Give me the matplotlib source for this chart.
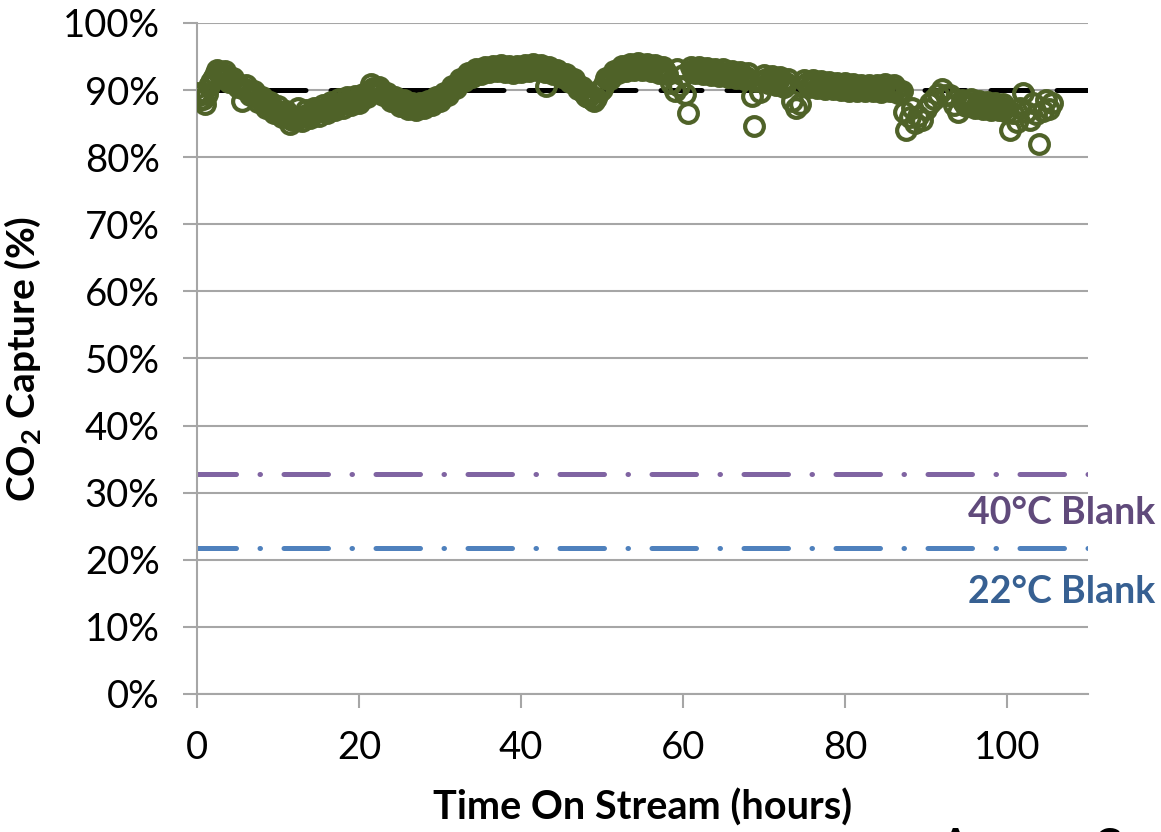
import matplotlib
matplotlib.use('Agg')
import matplotlib.pyplot as plt
from matplotlib.ticker import PercentFormatter

# Time on stream (hours) and CO2 capture (%)
hours = [0.0, 0.5, 1.0, 1.5, 2.0, 2.5, 3.0, 3.5, 4.0, 4.5, 5.0, 5.5, 6.0, 6.5, 7.0, 7.5,
         8.0, 8.5, 9.0, 9.5, 10.0, 10.5, 11.0, 11.5, 12.0, 12.5, 13.0, 13.5, 14.0, 14.5,
         15.0, 15.5, 16.0, 16.5, 17.0, 17.5, 18.0, 18.5, 19.0, 19.5, 20.0, 20.5, 21.0,
         21.5, 22.0, 22.5, 23.0, 23.5, 24.0, 24.5, 25.0, 25.5, 26.0, 26.5, 27.0, 27.5,
         28.0, 28.5, 29.0, 29.5, 30.0, 30.5, 31.0, 31.5, 32.0, 32.5, 33.0, 33.5, 34.0,
         34.5, 35.0, 35.5, 36.0, 36.5, 37.0, 37.5, 38.0, 38.5, 39.0, 39.5, 40.0, 40.5,
         41.0, 41.5, 42.0, 42.5, 43.0, 43.1, 43.5, 44.0, 44.5, 45.0, 45.5, 46.0, 46.5,
         47.0, 47.5, 48.0, 48.5, 49.0, 49.5, 50.0, 50.5, 51.0, 51.5, 52.0, 52.5, 53.0,
         53.5, 54.0, 54.5, 55.0, 55.5, 56.0, 56.5, 57.0, 57.5, 58.0, 58.5, 59.0, 59.3,
         59.5, 60.0, 60.3, 60.6, 61.0, 61.5, 62.0, 62.5, 63.0, 63.5, 64.0, 64.5, 65.0,
         65.5, 66.0, 66.5, 67.0, 67.5, 68.0, 68.5, 68.8, 69.0, 69.5, 70.0, 70.5, 71.0,
         71.5, 72.0, 72.5, 73.0, 73.5, 74.0, 74.5, 75.0, 75.5, 76.0, 76.5, 77.0, 77.5,
         78.0, 78.5, 79.0, 79.5, 80.0, 80.5, 81.0, 81.5, 82.0, 82.5, 83.0, 83.5, 84.0,
         84.5, 85.0, 85.5, 86.0, 86.5, 87.0, 87.3, 87.5, 88.0, 88.3, 88.6, 89.0, 89.5,
         90.0, 90.5, 91.0, 91.5, 92.0, 92.5, 93.0, 93.5, 94.0, 94.5, 95.0, 95.5, 96.0,
         96.5, 97.0, 97.5, 98.0, 98.5, 99.0, 99.5, 100.0, 100.4, 100.8, 101.2, 101.6,
         102.0, 102.4, 102.8, 103.2, 103.6, 104.0, 104.4, 104.8, 105.2, 105.5]
capture = [89.6, 88.6, 87.9, 90.6, 91.6, 93.0, 92.0, 92.8, 91.2, 91.8, 90.4, 88.4, 90.8,
           89.2, 89.9, 88.2, 89.0, 87.4, 88.2, 86.6, 87.6, 86.0, 86.9, 85.0, 85.8, 87.4,
           85.4, 87.0, 85.8, 87.4, 86.2, 87.8, 86.6, 88.2, 87.0, 88.6, 87.4, 88.9, 87.7,
           89.1, 88.0, 89.4, 88.9, 90.9, 89.8, 90.4, 89.2, 89.6, 88.3, 89.0, 87.6, 88.5,
           87.2, 88.0, 87.0, 88.0, 87.3, 88.3, 87.7, 88.9, 88.3, 89.6, 89.2, 90.6, 90.3,
           91.6, 91.4, 92.6, 92.0, 93.1, 92.4, 93.5, 92.7, 93.6, 92.8, 93.7, 92.7, 93.6,
           92.6, 93.6, 92.7, 93.8, 92.9, 93.9, 93.0, 93.8, 92.7, 90.6, 93.4, 92.4, 93.0,
           91.9, 92.4, 91.2, 91.6, 90.2, 90.5, 89.1, 89.2, 88.3, 89.8, 90.2, 91.8, 91.7,
           92.9, 92.5, 93.6, 92.8, 93.9, 93.0, 94.0, 93.0, 93.9, 92.9, 93.7, 92.6, 93.5,
           92.4, 91.0, 89.8, 93.2, 90.6, 92.2, 89.4, 86.6, 93.4, 92.6, 93.5, 92.4, 93.3,
           92.2, 93.2, 92.1, 93.1, 92.0, 92.9, 91.8, 92.7, 91.6, 92.5, 89.1, 84.6, 91.4,
           89.7, 92.3, 91.0, 92.1, 90.8, 91.9, 90.4, 91.6, 88.3, 87.4, 87.9, 91.5, 90.4,
           91.5, 90.3, 91.3, 90.2, 91.2, 90.1, 91.1, 90.0, 91.0, 89.9, 90.9, 89.9, 90.8,
           89.8, 90.7, 89.8, 90.7, 89.7, 90.9, 89.8, 90.7, 89.6, 89.8, 86.8, 84.0, 86.0,
           87.4, 85.1, 86.2, 85.5, 87.2, 88.0, 88.6, 89.4, 90.2, 89.2, 89.2, 87.8, 86.7,
           88.5, 87.6, 88.6, 87.4, 88.4, 87.2, 88.2, 87.1, 88.1, 87.0, 87.9, 86.8, 84.0,
           86.6, 85.2, 87.4, 89.6, 86.8, 85.6, 88.0, 86.4, 82.0, 86.9, 88.5, 87.2, 88.0]

# in-between readings along the dense part of the record
hours_mid = [0.25, 0.75, 1.25, 1.75, 2.25, 2.75, 3.25, 3.75, 4.25, 4.75, 5.25, 5.75, 6.25,
             6.75, 7.25, 7.75, 8.25, 8.75, 9.25, 9.75, 10.25, 10.75, 11.25, 11.75, 12.25,
             12.75, 13.25, 13.75, 14.25, 14.75, 15.25, 15.75, 16.25, 16.75, 17.25, 17.75,
             18.25, 18.75, 19.25, 19.75, 20.25, 20.75, 21.25, 21.75, 22.25, 22.75, 23.25,
             23.75, 24.25, 24.75, 25.25, 25.75, 26.25, 26.75, 27.25, 27.75, 28.25, 28.75,
             29.25, 29.75, 30.25, 30.75, 31.25, 31.75, 32.25, 32.75, 33.25, 33.75, 34.25,
             34.75, 35.25, 35.75, 36.25, 36.75, 37.25, 37.75, 38.25, 38.75, 39.25, 39.75,
             40.25, 40.75, 41.25, 41.75, 42.25, 42.75, 43.25, 43.75, 44.25, 44.75, 45.25,
             45.75, 46.25, 46.75, 47.25, 47.75, 48.25, 48.75, 49.25, 49.75, 50.25, 50.75,
             51.25, 51.75, 52.25, 52.75, 53.25, 53.75, 54.25, 54.75, 55.25, 55.75, 56.25,
             56.75, 57.25, 57.75,
             61.25, 61.75, 62.25, 62.75, 63.25, 63.75, 64.25, 64.75, 65.25, 65.75, 66.25,
             66.75, 67.25, 67.75,
             70.25, 70.75, 71.25, 71.75, 72.25, 72.75,
             75.25, 75.75, 76.25, 76.75, 77.25, 77.75, 78.25, 78.75, 79.25, 79.75, 80.25,
             80.75, 81.25, 81.75, 82.25, 82.75, 83.25, 83.75, 84.25, 84.75, 85.25, 85.75,
             86.25, 86.75,
             94.75, 95.25, 95.75, 96.25, 96.75, 97.25, 97.75, 98.25, 98.75, 99.25, 99.75]
capture_mid = [89.2, 88.6, 89.4, 91.2, 92.3, 92.6, 92.4, 92.0, 91.5, 91.1, 90.6, 90.2, 90.0,
               89.6, 89.1, 88.6, 88.2, 87.8, 87.4, 87.1, 86.8, 86.4, 86.0, 85.5, 85.6,
               86.0, 86.2, 86.4, 86.6, 86.8, 87.0, 87.2, 87.4, 87.6, 87.8, 88.0,
               88.2, 88.3, 88.4, 88.5, 88.7, 89.0, 89.8, 90.3, 90.1, 89.8, 89.4,
               89.0, 88.7, 88.3, 88.0, 87.8, 87.6, 87.5, 87.5, 87.6, 87.8, 88.0,
               88.3, 88.6, 89.0, 89.4, 89.9, 90.5, 91.0, 91.5, 92.0, 92.4, 92.6,
               92.8, 93.0, 93.1, 93.2, 93.2, 93.3, 93.2, 93.2, 93.1, 93.1, 93.2,
               93.3, 93.4, 93.4, 93.5, 93.4, 93.3, 93.1, 92.9, 92.7, 92.4, 92.1,
               91.7, 91.3, 90.8, 90.3, 89.6, 89.0, 88.6, 88.8, 89.8, 90.9, 91.6,
               92.2, 92.7, 93.0, 93.2, 93.4, 93.5, 93.6, 93.6, 93.5, 93.4, 93.3,
               93.2, 93.0, 92.9,
               93.0, 93.0, 92.9, 92.8, 92.8, 92.7, 92.6, 92.5, 92.5, 92.4, 92.3,
               92.2, 92.1, 92.0,
               91.6, 91.5, 91.4, 91.3, 91.1, 91.0,
               91.0, 90.9, 90.9, 90.8, 90.8, 90.7, 90.6, 90.6, 90.5, 90.5, 90.4,
               90.4, 90.3, 90.3, 90.3, 90.2, 90.2, 90.2, 90.2, 90.3, 90.3, 90.2,
               90.1, 89.8,
               88.1, 88.0, 88.0, 87.8, 87.8, 87.6, 87.6, 87.5, 87.5, 87.4, 87.3]

target = 90.0      # dashed target line (%)
blank_40 = 32.8    # 40°C blank (%)
blank_22 = 21.7    # 22°C blank (%)
x_range = [0, 110]

plt.rcParams['font.family'] = ['Lato', 'DejaVu Sans']
plt.rcParams['mathtext.fontset'] = 'custom'
plt.rcParams['mathtext.rm'] = 'Lato:bold'
plt.rcParams['mathtext.bf'] = 'Lato:bold'

fig = plt.figure(figsize=(11.61, 8.32), dpi=100, facecolor='white')
ax = fig.add_axes([0.1697, 0.1659, 0.9371 - 0.1697, 0.9724 - 0.1659])

grid_col = '#A6A6A6'
ax.yaxis.grid(True, color=grid_col, linewidth=1.5, zorder=0)
ax.set_axisbelow(True)

dashdot = (1.1, (8.9, 4.7, 0.1, 4.7))
ax.plot(x_range, [blank_40, blank_40], color='#8064A2', linewidth=3.6,
        linestyle=dashdot, dash_capstyle='round', zorder=2)
ax.plot(x_range, [blank_22, blank_22], color='#4F81BD', linewidth=3.6,
        linestyle=dashdot, dash_capstyle='round', zorder=2)
ax.plot(x_range, [target, target], color='black', linewidth=3.6,
        linestyle=(12.9, (8.2, 5.0)), dash_capstyle='round', zorder=2)

green = '#4F6228'
ax.plot(hours_mid, capture_mid, 'o', mfc='none', mec=green, ms=13.5, mew=3.0, zorder=3)
ax.plot(hours, capture, 'o', mfc='none', mec=green, ms=13.5, mew=3.0, zorder=3)

ax.set_xlim(0, 110)
ax.set_ylim(0, 100)
ax.set_xticks([0, 20, 40, 60, 80, 100])
ax.set_yticks(range(0, 101, 10))
ax.yaxis.set_major_formatter(PercentFormatter(decimals=0))

for s in ['top', 'right']:
    ax.spines[s].set_visible(False)
for s in ['left', 'bottom']:
    ax.spines[s].set_color(grid_col)
    ax.spines[s].set_linewidth(1.5)
ax.tick_params(axis='both', direction='out', length=10, width=1.5, color=grid_col,
               labelsize=27.5, labelcolor='black')
ax.tick_params(axis='y', pad=17)
ax.tick_params(axis='x', pad=16)

ax.set_xlabel('Time On Stream (hours)', fontsize=28.5, fontweight='bold', labelpad=16)
ax.set_ylabel(r'CO$_{2}$ Capture (%)', fontsize=28, fontweight='bold', labelpad=14)

fig.text(0.9948, 0.3834, '40°C Blank', ha='right', va='center', fontsize=27,
         fontweight='bold', color='#604A7B')
fig.text(0.9948, 0.2885, '22°C Blank', ha='right', va='center', fontsize=27,
         fontweight='bold', color='#376092')

# text cut off at the bottom edge of the original picture
fig.text(0.811, 0.006, 'Average C', ha='left', va='top', fontsize=28,
         fontweight='bold', color='black')

fig.savefig('out.png', dpi=100)
